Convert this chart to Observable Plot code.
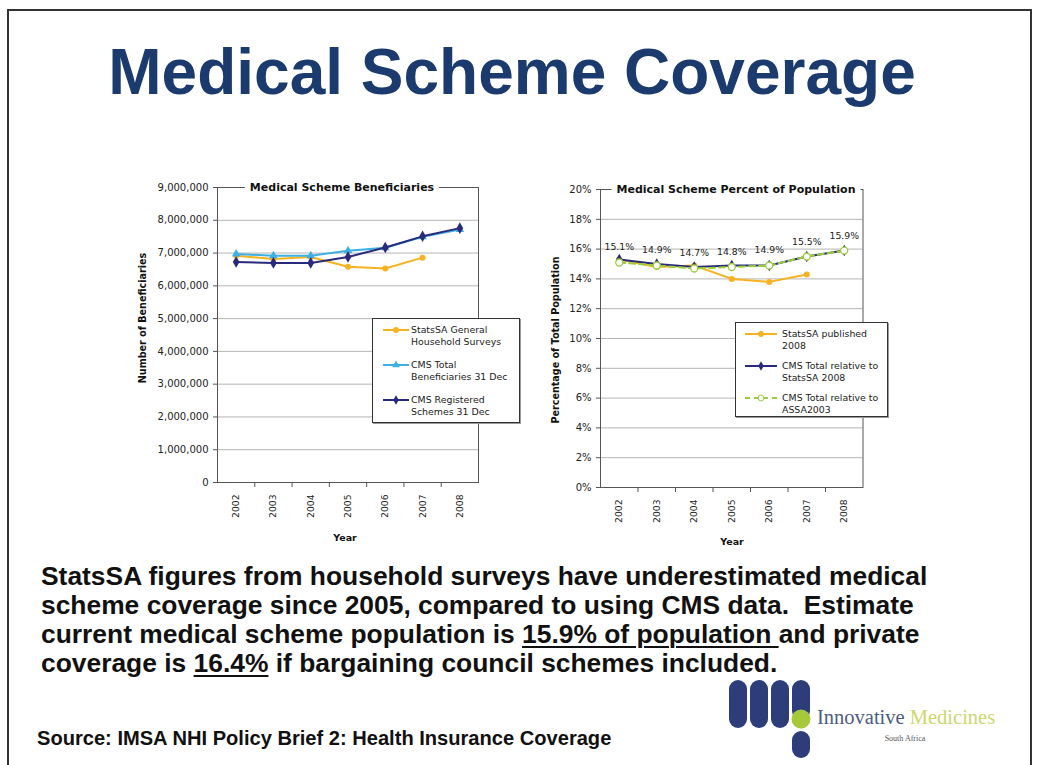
<!DOCTYPE html>
<html><head><meta charset="utf-8">
<script src="https://cdn.jsdelivr.net/npm/d3@7"></script>
<script src="https://cdn.jsdelivr.net/npm/@observablehq/plot@0.6"></script>
<style>
body{margin:0;background:#fff;}
#page{position:relative;width:1037px;height:765px;overflow:hidden;background:#fff;font-family:"Liberation Sans",Arial,sans-serif;}
#frame{position:absolute;left:7px;top:9px;width:1025px;height:770px;border:2px solid #333;box-sizing:border-box;}
#title{position:absolute;left:0;width:1024px;top:40px;line-height:64px;text-align:center;font-weight:bold;font-size:64px;color:#1b3a6d;white-space:nowrap;}
#body{position:absolute;left:41px;top:562px;font-weight:bold;font-size:26.4px;line-height:29px;color:#111;white-space:nowrap;}
#body u{text-decoration-thickness:2px;text-underline-offset:3px;}
#source{position:absolute;left:37px;top:728px;font-weight:bold;font-size:20.1px;line-height:20px;color:#111;white-space:nowrap;}
.chart{position:absolute;}
.ctitle{position:absolute;transform:translate(-50%,-50%);background:#fff;padding:0 5px;font-family:"DejaVu Sans",sans-serif;font-weight:bold;font-size:11px;color:#111;white-space:nowrap;}
.ylab{position:absolute;transform:translate(-50%,-50%) rotate(-90deg);font-family:"DejaVu Sans",sans-serif;font-weight:bold;font-size:9.6px;color:#111;white-space:nowrap;}
.xlab{position:absolute;transform:translate(-50%,-50%);font-family:"DejaVu Sans",sans-serif;font-weight:bold;font-size:9.5px;color:#111;}
.legend{position:absolute;background:#fff;border:1px solid #333;box-shadow:1px 1px 0 #999;box-sizing:border-box;}
.li{position:absolute;font-family:"DejaVu Sans",sans-serif;font-size:9.4px;line-height:12.5px;color:#222;white-space:nowrap;}
.sw{position:absolute;}
</style>
</head><body>
<div id="page">
  <div id="frame"></div>
  <div id="title">Medical Scheme Coverage</div>
  <div id="leftChart" class="chart" style="left:130px;top:170px;"></div>
  <div id="rightChart" class="chart" style="left:540px;top:172px;"></div>
  <div class="ctitle" style="left:342px;top:187px;">Medical Scheme Beneficiaries</div>
  <div class="ctitle" style="left:736px;top:189px;">Medical Scheme Percent of Population</div>
  <div class="ylab" style="left:142px;top:318px;">Number of Beneficiaries</div>
  <div class="ylab" style="left:555px;top:340px;">Percentage of Total Population</div>
  <div class="xlab" style="left:345px;top:537px;">Year</div>
  <div class="xlab" style="left:732px;top:541px;">Year</div>
  <div id="legL" class="legend" style="left:372px;top:318px;width:148px;height:105px;"></div>
  <div id="legR" class="legend" style="left:735px;top:322px;width:153px;height:95px;"></div>
  <div id="body">StatsSA figures from household surveys have underestimated medical<br>scheme coverage since 2005, compared to using CMS data.&nbsp; Estimate<br>current medical scheme population is <u>15.9% of population </u>and private<br>coverage is <u>16.4%</u> if bargaining council schemes included.</div>
  <div id="source">Source: IMSA NHI Policy Brief 2: Health Insurance Coverage</div>
  <svg id="logo" style="position:absolute;left:720px;top:672px;" width="300" height="93">
    <g fill="#2d3d7a">
      <rect x="9" y="8" width="18" height="48" rx="9"/>
      <rect x="30" y="8" width="18" height="48" rx="9"/>
      <rect x="51" y="8" width="18" height="48" rx="9"/>
      <rect x="72" y="8" width="18" height="40" rx="9"/>
      <rect x="72" y="59" width="18" height="27" rx="9"/>
    </g>
    <circle cx="81" cy="47" r="9.5" fill="#a6c93c"/>
    <text x="97" y="52" font-family="Liberation Serif, serif" font-size="20.5" fill="#4d5c83">Innovative <tspan fill="#c9d86f">Medicines</tspan></text>
    <text x="185" y="69" text-anchor="middle" font-family="Liberation Serif, serif" font-size="8" fill="#555">South Africa</text>
  </svg>
</div>
<script>
// ---- data ----
const years = [2002, 2003, 2004, 2005, 2006, 2007, 2008];
const statsSAGHS = [6920000, 6820000, 6880000, 6580000, 6530000, 6860000];
const cmsTotalBen = [6970000, 6920000, 6920000, 7070000, 7160000, 7500000, 7720000];
const cmsRegistered = [6730000, 6700000, 6700000, 6880000, 7170000, 7510000, 7760000];
const benTicks = [0, 1000000, 2000000, 3000000, 4000000, 5000000, 6000000, 7000000, 8000000, 9000000];

const statsSAPub = [15.3, 14.8, 14.9, 14.0, 13.8, 14.3];
const cmsRelStatsSA = [15.3, 15.0, 14.8, 14.9, 14.9, 15.5, 15.9];
const cmsRelASSA = [15.1, 14.9, 14.7, 14.8, 14.9, 15.5, 15.9];
const pctLabels = ["15.1%", "14.9%", "14.7%", "14.8%", "14.9%", "15.5%", "15.9%"];
const pctTicks = [0, 2, 4, 6, 8, 10, 12, 14, 16, 18, 20];

const leftSeries = ["StatsSA General Household Surveys", "CMS Total Beneficiaries 31 Dec", "CMS Registered Schemes 31 Dec"];
const rightSeries = ["StatsSA published 2008", "CMS Total relative to StatsSA 2008", "CMS Total relative to ASSA2003"];

const ORANGE = "#f6b21f", LBLUE = "#3cb0e2", NAVY = "#2a2a7c", GREEN = "#9acd3a";

const toRows = (vals) => vals.map((v, i) => ({year: years[i], value: v}));
const bounds = years.map(y => y - 0.5).concat([years[years.length - 1] + 0.5]);
const xDomain = [bounds[0], bounds[bounds.length - 1]];

const commonStyle = {fontFamily: "DejaVu Sans, sans-serif", fontSize: "10px", color: "#222", background: "transparent", overflow: "visible"};

// ---- left chart ----
const L1 = toRows(statsSAGHS), L2 = toRows(cmsTotalBen), L3 = toRows(cmsRegistered);
const left = Plot.plot({
  width: 400, height: 380,
  marginLeft: 87, marginRight: 52, marginTop: 17, marginBottom: 68,
  style: commonStyle,
  x: {type: "linear", domain: xDomain},
  y: {domain: [0, 9000000]},
  marks: [
    Plot.gridY({ticks: benTicks.slice(1, -1), stroke: "#b5b5b5", strokeOpacity: 1}),
    Plot.frame({stroke: "#555"}),
    Plot.axisY({ticks: benTicks, tickFormat: d3.format(","), tickSize: 4, tickPadding: 5, label: null, stroke: "#555"}),
    Plot.axisX({ticks: years, tickSize: 0, tickPadding: 12, tickRotate: -90, tickFormat: d => String(d), label: null, fontSize: 9.2}),
    Plot.axisX({ticks: bounds.slice(1, -1), tickSize: 5, tickFormat: () => "", label: null, stroke: "#555"}),
    Plot.line(L1, {x: "year", y: "value", stroke: ORANGE, strokeWidth: 2}),
    Plot.dot(L1, {x: "year", y: "value", fill: ORANGE, r: 3}),
    Plot.line(L2, {x: "year", y: "value", stroke: LBLUE, strokeWidth: 2}),
    Plot.dot(L2, {x: "year", y: "value", fill: LBLUE, symbol: "triangle", r: 3.2}),
    Plot.line(L3, {x: "year", y: "value", stroke: NAVY, strokeWidth: 2}),
    Plot.dot(L3, {x: "year", y: "value", fill: NAVY, symbol: "diamond", r: 3.5})
  ]
});
document.getElementById("leftChart").appendChild(left);

// ---- right chart ----
const R1 = toRows(statsSAPub), R2 = toRows(cmsRelStatsSA), R3 = cmsRelASSA.map((v, i) => ({year: years[i], value: v, label: pctLabels[i]}));
const right = Plot.plot({
  width: 360, height: 380,
  marginLeft: 60, marginRight: 37.5, marginTop: 17, marginBottom: 65,
  style: commonStyle,
  x: {type: "linear", domain: xDomain},
  y: {domain: [0, 20]},
  marks: [
    Plot.gridY({ticks: pctTicks.slice(1, -1), stroke: "#b5b5b5", strokeOpacity: 1}),
    Plot.frame({stroke: "#555"}),
    Plot.axisY({ticks: pctTicks, tickFormat: d => d + "%", tickSize: 4, tickPadding: 5, label: null, stroke: "#555"}),
    Plot.axisX({ticks: years, tickSize: 0, tickPadding: 12, tickRotate: -90, tickFormat: d => String(d), label: null, fontSize: 9.2}),
    Plot.axisX({ticks: bounds.slice(1, -1), tickSize: 5, tickFormat: () => "", label: null, stroke: "#555"}),
    Plot.line(R1, {x: "year", y: "value", stroke: ORANGE, strokeWidth: 2}),
    Plot.dot(R1, {x: "year", y: "value", fill: ORANGE, r: 3}),
    Plot.line(R2, {x: "year", y: "value", stroke: NAVY, strokeWidth: 2}),
    Plot.dot(R2, {x: "year", y: "value", fill: NAVY, symbol: "diamond", r: 3.5}),
    Plot.line(R3, {x: "year", y: "value", stroke: GREEN, strokeWidth: 2, strokeDasharray: "6,4"}),
    Plot.dot(R3, {x: "year", y: "value", fill: "white", stroke: GREEN, strokeWidth: 1.3, r: 3.5}),
    Plot.text(R3, {x: "year", y: "value", text: "label", dy: -15, fontSize: 9.3, fill: "#222"})
  ]
});
document.getElementById("rightChart").appendChild(right);

// ---- legends (HTML) ----
function swatch(color, symbol, dashed, w) {
  const s = d3.create("svg").attr("width", w).attr("height", 10).attr("class", "sw");
  s.append("line").attr("x1", 0).attr("x2", w).attr("y1", 5).attr("y2", 5)
    .attr("stroke", color).attr("stroke-width", 2).attr("stroke-dasharray", dashed ? "5,4" : null);
  const sym = symbol === "circleOpen" ? d3.symbolCircle : symbol === "triangle" ? d3.symbolTriangle : symbol === "diamond" ? d3.symbolDiamond : d3.symbolCircle;
  s.append("path").attr("d", d3.symbol(sym, 26)()).attr("transform", `translate(${w / 2},5)`)
    .attr("fill", symbol === "circleOpen" ? "#fff" : color).attr("stroke", symbol === "circleOpen" ? color : "none");
  return s.node();
}
function buildLegend(id, items, x0, textX, y0, pitch, w) {
  const box = document.getElementById(id);
  items.forEach((it, i) => {
    const sw = swatch(it.color, it.symbol, it.dashed, w);
    sw.style.left = x0 + "px"; sw.style.top = (y0 + i * pitch - 5) + "px";
    box.appendChild(sw);
    const t = document.createElement("div");
    t.className = "li";
    t.style.left = textX + "px"; t.style.top = (y0 + i * pitch - 6.25) + "px";
    t.innerHTML = it.lines.join("<br>");
    box.appendChild(t);
  });
}
buildLegend("legL", [
  {color: ORANGE, symbol: "circle", lines: ["StatsSA General", "Household Surveys"]},
  {color: LBLUE, symbol: "triangle", lines: ["CMS Total", "Beneficiaries 31 Dec"]},
  {color: NAVY, symbol: "diamond", lines: ["CMS Registered", "Schemes 31 Dec"]}
].map((d, i) => ({...d, name: leftSeries[i]})), 10, 38, 11, 35, 26);
buildLegend("legR", [
  {color: ORANGE, symbol: "circle", lines: ["StatsSA published", "2008"]},
  {color: NAVY, symbol: "diamond", lines: ["CMS Total relative to", "StatsSA 2008"]},
  {color: GREEN, symbol: "circleOpen", dashed: true, lines: ["CMS Total relative to", "ASSA2003"]}
].map((d, i) => ({...d, name: rightSeries[i]})), 9, 46, 11, 32, 32);
</script>
</body></html>
